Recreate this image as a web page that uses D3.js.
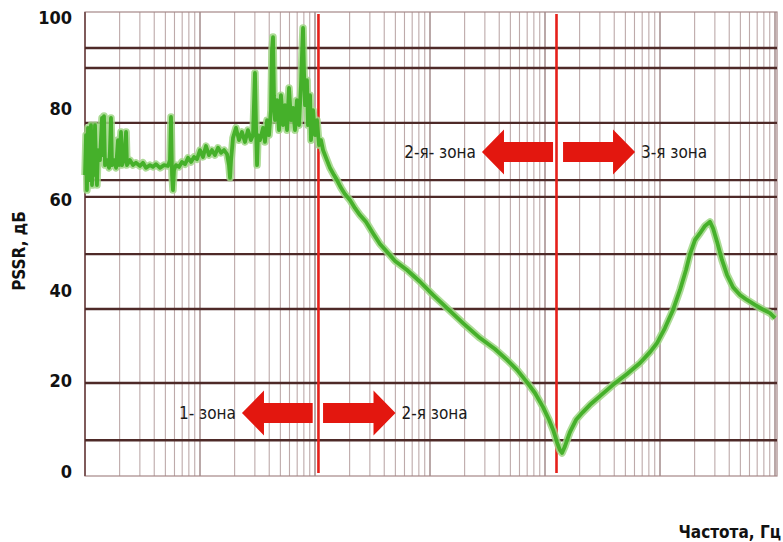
<!DOCTYPE html>
<html><head><meta charset="utf-8">
<script src="https://cdn.jsdelivr.net/npm/d3@7"></script>
<style>body{margin:0;background:#fff}svg{display:block}</style>
</head><body>
<svg id="c" width="783" height="542"></svg>
<script>
// ---- data ----
const yTicks = [0, 20, 40, 60, 80, 100];
const hGrid = [93.4, 89.0, 76.9, 64.3, 60.6, 48.0, 35.9, 19.6, 7.0];
const decades = [0, 1, 2, 3, 4, 5];
const minorSteps = [1, 2, 3, 4, 5, 6, 7, 8, 9];
const zoneBounds = [2.03, 4.10];
// frequency as lg(f), decades from start of axis
const lgFreq = [0,0.009,0.017,0.026,0.035,0.043,0.052,0.061,0.070,0.078,0.087,0.096,0.104,0.113,0.130,0.148,0.157,0.165,0.174,0.191,0.209,0.217,0.226,0.235,0.252,0.270,0.287,0.296,0.313,0.322,0.339,0.357,0.365,0.391,0.417,0.443,0.478,0.504,0.530,0.565,0.591,0.617,0.652,0.687,0.722,0.739,0.748,0.757,0.765,0.774,0.791,0.817,0.843,0.870,0.896,0.922,0.948,0.974,1.000,1.026,1.052,1.078,1.104,1.130,1.157,1.183,1.209,1.235,1.252,1.261,1.270,1.287,1.313,1.339,1.365,1.391,1.417,1.443,1.461,1.478,1.487,1.496,1.504,1.522,1.548,1.565,1.583,1.600,1.617,1.626,1.635,1.643,1.652,1.670,1.687,1.704,1.722,1.739,1.757,1.774,1.791,1.809,1.826,1.843,1.861,1.878,1.887,1.896,1.904,1.913,1.930,1.939,1.957,1.965,1.983,2.000,2.017,2.035,2.052,2.070,2.096,2.130,2.165,2.191,2.226,2.261,2.304,2.348,2.391,2.443,2.504,2.565,2.626,2.696,2.800,2.913,3.026,3.148,3.287,3.435,3.565,3.670,3.757,3.843,3.913,3.983,4.035,4.070,4.104,4.130,4.148,4.174,4.217,4.270,4.330,4.391,4.478,4.591,4.713,4.826,4.913,4.974,5.043,5.113,5.174,5.226,5.261,5.304,5.348,5.391,5.435,5.461,5.496,5.539,5.583,5.635,5.696,5.757,5.826,5.887,5.957,6.000];
const pssr = [65.4,74.2,62.1,75.8,64.3,68.7,76.4,63.2,73.1,65.4,76.4,67.6,63.2,70.9,68.7,78.0,69.8,78.4,67.6,68.7,67.0,70.9,78.0,67.6,68.7,67.0,73.1,67.6,74.9,67.6,68.7,74.9,67.6,68.7,67.6,68.1,67.4,68.1,67.0,67.6,67.2,67.8,67.0,67.6,67.4,68.7,78.2,65.4,62.1,66.5,67.6,67.2,68.3,67.8,69.2,68.3,69.4,68.9,70.9,69.4,71.8,69.8,70.9,69.8,71.4,70.3,70.9,70.0,67.6,64.8,68.7,73.6,75.8,73.1,74.9,72.7,75.3,73.1,74.2,87.9,76.4,67.6,74.2,73.1,75.8,72.7,77.5,74.2,79.7,93.0,95.8,83.0,77.5,81.9,75.3,83.0,76.4,80.8,75.3,84.6,77.5,80.2,75.3,81.9,76.4,85.2,91.9,97.8,88.5,80.8,86.3,76.4,83.0,73.1,79.7,74.2,77.5,72.0,73.1,70.9,69.2,67.0,65.4,64.3,62.6,61.2,59.9,58.1,56.6,55.1,52.6,50.2,48.5,46.5,44.5,41.9,39.0,36.1,32.8,29.5,27.1,24.7,22.5,19.8,17.4,14.3,11.5,9.3,6.6,4.8,4.2,5.7,8.8,11.5,13.2,14.8,16.7,19.2,21.6,24.0,26.4,28.4,31.7,35.7,40.1,44.5,48.0,51.1,52.6,54.2,55.1,53.7,50.7,46.7,43.4,40.7,39.0,37.9,36.8,35.9,35.0,33.9];
const arrowFrom = [1.98, 2.07, 4.07, 4.157];
const arrowTo   = [1.365, 2.70, 3.452, 4.783];
const arrowDb   = [13.0, 13.0, 70.5, 70.5];
const zoneLabels = ["1- зона", "2-я зона", "2-я- зона", "3-я зона"];
const yTitle = "PSSR, дБ";
const xTitle = "Частота, Гц";

// ---- layout ----
const L = 85, R = 777, T = 12, B = 476;
const svg = d3.select("#c");
const x = d3.scaleLinear().domain([0, 6]).range([85, 775]);
const y = d3.scaleLinear().domain([0, 100]).range([472, 18]);
const FONT = "'Liberation Sans Narrow','DejaVu Sans Condensed','Arial Narrow',sans-serif";

// vertical grid
const vLines = [];
decades.forEach(d => minorSteps.forEach(k => vLines.push(d + Math.log10(k))));
vLines.push(6);
svg.append("g").selectAll("line").data(vLines).join("line")
  .attr("x1", d => x(d)).attr("x2", d => x(d))
  .attr("y1", T).attr("y2", B)
  .attr("stroke", (d, i) => (i % 9 === 0) ? "#8c6e6e" : "#b39c9c")
  .attr("stroke-width", (d, i) => (i % 9 === 0) ? 1.4 : 1.1)
  .attr("opacity", 0.85);

// frame
svg.append("rect").attr("x", L).attr("y", T).attr("width", R - L).attr("height", B - T)
  .attr("fill", "none").attr("stroke", "#a58888").attr("stroke-width", 1.2);
svg.append("line").attr("x1", L).attr("x2", L).attr("y1", T).attr("y2", B)
  .attr("stroke", "#7a5555").attr("stroke-width", 1.8);

// horizontal grid
svg.append("g").selectAll("line").data(hGrid).join("line")
  .attr("x1", L).attr("x2", R)
  .attr("y1", d => y(d)).attr("y2", d => y(d))
  .attr("stroke", "#4e2a28").attr("stroke-width", 2.4);

// y axis labels
const ya = svg.append("g").attr("transform", `translate(${L},0)`)
  .call(d3.axisLeft(y).tickValues(yTicks).tickSize(0).tickPadding(13).tickFormat(d3.format("d")));
ya.select(".domain").remove();
ya.selectAll("text").attr("font-family", FONT).attr("font-size", 18)
  .attr("font-weight", "bold").attr("fill", "#111");

// red zone boundaries
svg.append("g").selectAll("line").data(zoneBounds).join("line")
  .attr("x1", d => x(d)).attr("x2", d => x(d))
  .attr("y1", T + 2).attr("y2", 473)
  .attr("stroke", "#e5201a").attr("stroke-width", 2.6);

// curve
const pts = lgFreq.map((f, i) => [f, pssr[i]]);
const line = d3.line().x(d => x(d[0])).y(d => y(d[1]));
svg.append("path").attr("d", line(pts)).attr("fill", "none")
  .attr("stroke", "#9fd685").attr("stroke-width", 7.5).attr("stroke-linejoin", "round").attr("opacity", 0.85);
svg.append("path").attr("d", line(pts)).attr("fill", "none")
  .attr("stroke", "#45b02a").attr("stroke-width", 3.8).attr("stroke-linejoin", "round");

// arrows
const HL = 22, HH = 22.5, SH = 10;
arrowFrom.forEach((f, i) => {
  const x0 = x(f), x1 = x(arrowTo[i]), yc = y(arrowDb[i]);
  const dir = Math.sign(x1 - x0);
  const hb = x1 - dir * HL;
  const p = d3.path();
  p.moveTo(x0, yc - SH); p.lineTo(hb, yc - SH); p.lineTo(hb, yc - HH);
  p.lineTo(x1, yc); p.lineTo(hb, yc + HH); p.lineTo(hb, yc + SH);
  p.lineTo(x0, yc + SH); p.closePath();
  svg.append("path").attr("d", p.toString()).attr("fill", "#e3170f");
  svg.append("text")
    .attr("x", x1 + dir * 6).attr("y", yc).attr("dy", "0.35em")
    .attr("text-anchor", dir < 0 ? "end" : "start")
    .attr("font-family", FONT).attr("font-size", 17).attr("fill", "#1a1a1a")
    .text(zoneLabels[i]);
});

// titles
svg.append("text").attr("transform", `translate(25,251) rotate(-90)`)
  .attr("text-anchor", "middle").attr("font-family", FONT).attr("font-size", 17)
  .attr("font-weight", "bold").attr("fill", "#111").text(yTitle);
svg.append("text").attr("x", 781).attr("y", 538).attr("text-anchor", "end")
  .attr("font-family", FONT).attr("font-size", 17)
  .attr("font-weight", "bold").attr("fill", "#111").text(xTitle);
</script>
</body></html>
